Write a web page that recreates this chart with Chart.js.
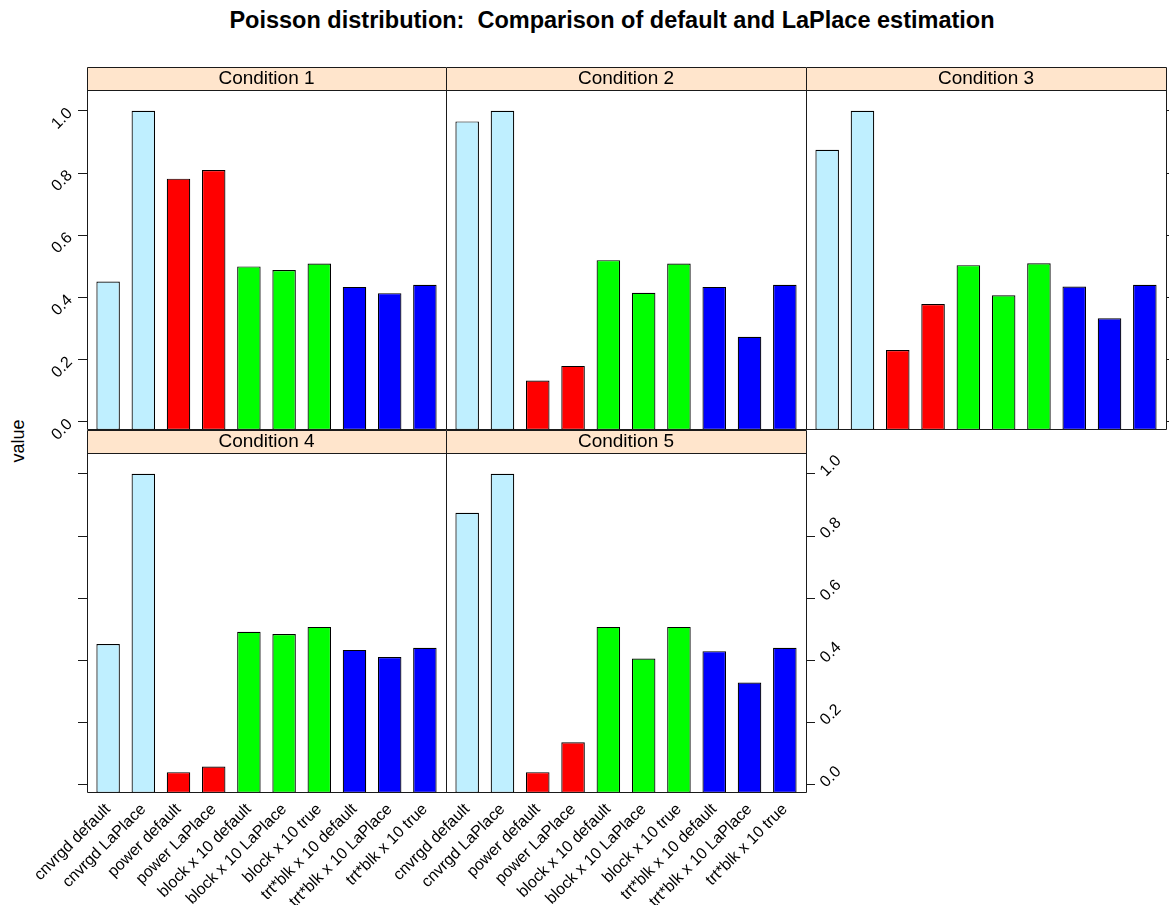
<!DOCTYPE html>
<html><head><meta charset="utf-8">
<script src="https://cdn.jsdelivr.net/npm/chart.js@4.4.0/dist/chart.umd.min.js"></script>
<style>
html,body{margin:0;padding:0;background:#fff;overflow:hidden;width:1169px;height:905px;}
#wrap{position:relative;width:1169px;height:905px;overflow:hidden;}
canvas{position:absolute;}
#title{position:absolute;left:112px;width:1000px;top:7px;text-align:center;white-space:pre;font:bold 23.5px "Liberation Sans",Arial,sans-serif;color:#000;}
#ylab{position:absolute;left:18px;top:441px;transform:translate(-50%,-50%) rotate(-90deg);font:18px "Liberation Sans",Arial,sans-serif;white-space:nowrap;color:#000;line-height:1;}
</style></head><body>
<div id="wrap">
<div id="title">Poisson distribution:  Comparison of default and LaPlace estimation</div>
<div id="ylab">value</div>
<canvas id="p1" width="447" height="394" style="left:0px;top:67px"></canvas>
<canvas id="p2" width="362" height="364" style="left:445px;top:67px"></canvas>
<canvas id="p3" width="370" height="364" style="left:805px;top:67px"></canvas>
<canvas id="p4" width="447" height="475" style="left:0px;top:430px"></canvas>
<canvas id="p5" width="500" height="475" style="left:366px;top:430px"></canvas>
</div>
<script>
// ---- data ----
const CATEGORIES = ['cnvrgd default','cnvrgd LaPlace','power default','power LaPlace',
  'block x 10 default','block x 10 LaPlace','block x 10 true',
  'trt*blk x 10 default','trt*blk x 10 LaPlace','trt*blk x 10 true'];
const PANEL_LABELS = ['Condition 1','Condition 2','Condition 3','Condition 4','Condition 5'];
const COND1 = [0.451, 1.000, 0.782, 0.810, 0.500, 0.488, 0.509, 0.434, 0.414, 0.441];
const COND2 = [0.966, 1.000, 0.133, 0.180, 0.520, 0.415, 0.509, 0.434, 0.274, 0.441];
const COND3 = [0.875, 1.000, 0.231, 0.379, 0.504, 0.407, 0.510, 0.435, 0.333, 0.441];
const COND4 = [0.453, 1.000, 0.041, 0.059, 0.492, 0.485, 0.508, 0.434, 0.411, 0.441];
const COND5 = [0.875, 1.000, 0.041, 0.137, 0.508, 0.406, 0.508, 0.430, 0.329, 0.441];
const Y_TICKS = [0.0, 0.2, 0.4, 0.6, 0.8, 1.0];
const Y_MIN = -0.026, Y_MAX = 1.067;
const X_MIN = 0.4, X_MAX = 10.6;

// ---- style ----
const BAR_COLORS = ['#BFEFFF','#BFEFFF','#FF0000','#FF0000','#00FF00','#00FF00','#00FF00','#0000FF','#0000FF','#0000FF'];
const FONT = '"Liberation Sans", Arial, sans-serif';
const INK = '#1a1a1a';

const stripPlugin = {
  id: 'strip',
  beforeDraw(chart) {
    const t = chart.titleBlock, a = chart.chartArea, ctx = chart.ctx;
    ctx.save();
    ctx.fillStyle = '#FFE5CC';
    ctx.fillRect(a.left, t.top, a.right - a.left, t.height);
    ctx.restore();
  },
  afterDraw(chart) {
    const t = chart.titleBlock, a = chart.chartArea, ctx = chart.ctx;
    const l = Math.round(a.left) + 0.5, r = Math.round(a.right) + 0.5;
    const st = Math.round(t.top) + 0.5, top = Math.round(a.top) + 0.5, b = Math.round(a.bottom) - 0.5;
    ctx.save();
    ctx.strokeStyle = INK; ctx.lineWidth = 1;
    ctx.beginPath();
    ctx.rect(l, st, r - l, b - st);
    ctx.moveTo(l, top); ctx.lineTo(r, top);
    ctx.stroke();
    ctx.restore();
  }
};

function makePanel(id, label, values, cfg) {
  const yKind = cfg.y; // 'labels','ticks','none'
  new Chart(document.getElementById(id), {
    type: 'bar',
    data: {
      datasets: [{
        data: values.map((v, i) => ({ x: i + 1, y: [Y_MIN, v] })),
        backgroundColor: BAR_COLORS,
        borderColor: '#000',
        borderWidth: 1.2,
        borderSkipped: false,
        barPercentage: 0.667,
        categoryPercentage: 1
      }]
    },
    options: {
      responsive: false,
      animation: false,
      events: [],
      layout: { padding: cfg.pad },
      plugins: {
        legend: { display: false },
        tooltip: { enabled: false },
        title: {
          display: true, text: label, fullSize: false, position: 'top', align: 'center',
          color: '#000', padding: { top: 0, bottom: 0 },
          font: { family: FONT, size: 19, weight: 'normal', lineHeight: '23px' }
        }
      },
      scales: {
        x: {
          type: 'linear', min: X_MIN, max: X_MAX, offset: false,
          display: !!cfg.xLabels, position: 'bottom',
          afterBuildTicks: ax => { ax.ticks = CATEGORIES.map((c, i) => ({ value: i + 1 })); },
          afterFit: ax => { ax.height = cfg.xLabels ? 112 : 0; },
          grid: { display: false, drawTicks: false },
          border: { display: false },
          ticks: {
            autoSkip: false, minRotation: 45, maxRotation: 45, padding: 7,
            font: { family: FONT, size: 16 }, color: '#000',
            callback: v => CATEGORIES[v - 1]
          }
        },
        y: {
          type: 'linear', min: Y_MIN, max: Y_MAX, position: cfg.side || 'left',
          display: yKind !== 'none',
          afterBuildTicks: ax => { ax.ticks = Y_TICKS.map(v => ({ value: v })); },
          afterFit: ax => { ax.width = cfg.yWidth || 0; },
          border: { display: false },
          grid: { display: true, drawOnChartArea: false, drawTicks: true, tickLength: 9, color: INK, lineWidth: 1 },
          ticks: {
            display: yKind === 'labels', minRotation: 45, maxRotation: 45, padding: 8,
            font: { family: FONT, size: 16 }, color: '#000',
            callback: v => Number(v).toFixed(1)
          }
        }
      }
    },
    plugins: [stripPlugin]
  });
}

makePanel('p1', PANEL_LABELS[0], COND1, { y: 'labels', side: 'left', yWidth: 87, pad: { left: 0, right: 1, top: 0, bottom: 31 } });
makePanel('p2', PANEL_LABELS[1], COND2, { y: 'none', pad: { left: 1, right: 1, top: 0, bottom: 1 } });
makePanel('p3', PANEL_LABELS[2], COND3, { y: 'ticks', side: 'right', yWidth: 9, pad: { left: 1, right: 0, top: 0, bottom: 1 } });
makePanel('p4', PANEL_LABELS[3], COND4, { y: 'ticks', side: 'left', yWidth: 87, xLabels: true, pad: { left: 0, right: 1, top: 0, bottom: 0 } });
makePanel('p5', PANEL_LABELS[4], COND5, { y: 'labels', side: 'right', yWidth: 60, xLabels: true, pad: { left: 80, right: 0, top: 0, bottom: 0 } });
</script>
</body></html>
